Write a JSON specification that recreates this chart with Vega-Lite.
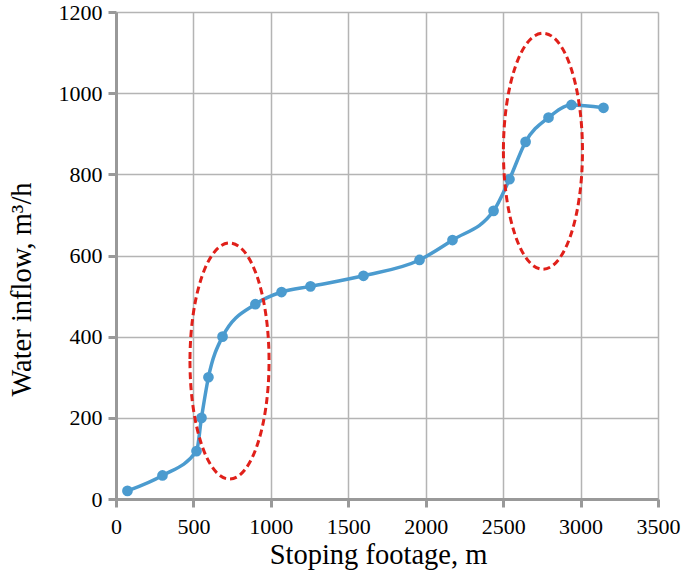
{
  "$schema": "https://vega.github.io/schema/vega-lite/v6.json",
  "autosize": {"type": "none"},
  "width": 542,
  "height": 487,
  "padding": {"left": 116, "top": 12, "right": 27, "bottom": 76},
  "background": "white",
  "config": {
    "view": {"stroke": null},
    "font": "Liberation Serif",
    "axis": {
      "labelFont": "Liberation Serif",
      "titleFont": "Liberation Serif",
      "labelColor": "black",
      "titleColor": "black",
      "titleFontWeight": "normal",
      "gridColor": "#b4b4b4",
      "gridWidth": 1.5,
      "domainColor": "#999999",
      "domainWidth": 3,
      "tickColor": "#999999",
      "tickWidth": 3,
      "tickSize": 8
    }
  },
  "datasets": {
    "curve": [
      {"footage": 74, "inflow": 20},
      {"footage": 300, "inflow": 58},
      {"footage": 520, "inflow": 118},
      {"footage": 552, "inflow": 200},
      {"footage": 597, "inflow": 300},
      {"footage": 688, "inflow": 400},
      {"footage": 900, "inflow": 480},
      {"footage": 1069, "inflow": 510},
      {"footage": 1256, "inflow": 524},
      {"footage": 1598, "inflow": 550},
      {"footage": 1960, "inflow": 589},
      {"footage": 2173, "inflow": 638},
      {"footage": 2438, "inflow": 710},
      {"footage": 2541, "inflow": 788},
      {"footage": 2645, "inflow": 880},
      {"footage": 2793, "inflow": 940},
      {"footage": 2941, "inflow": 971},
      {"footage": 3148, "inflow": 964}
    ],
    "zones": [
      {"footage": 733, "inflow": 340},
      {"footage": 2757, "inflow": 857}
    ]
  },
  "layer": [
    {
      "data": {"name": "curve"},
      "mark": {"type": "line", "interpolate": "monotone", "color": "#4b9bcf", "strokeWidth": 3.5},
      "encoding": {
        "x": {
          "field": "footage", "type": "quantitative",
          "scale": {"domain": [0, 3500], "nice": false},
          "axis": {"values": [0, 500, 1000, 1500, 2000, 2500, 3000, 3500], "format": "d", "title": "Stoping footage, m", "labelFontSize": 22, "titleFontSize": 28.5, "labelPadding": 9, "titlePadding": 3, "titleX": 262, "labelFlush": false}
        },
        "y": {
          "field": "inflow", "type": "quantitative",
          "scale": {"domain": [0, 1200], "nice": false},
          "axis": {"values": [0, 200, 400, 600, 800, 1000, 1200], "format": "d", "title": "Water inflow, m³/h", "labelFontSize": 22, "titleFontSize": 28.5, "labelPadding": 6, "titlePadding": 22, "titleY": 277, "labelFlush": false}
        }
      }
    },
    {
      "data": {"name": "curve"},
      "mark": {"type": "point", "filled": true, "color": "#4b9bcf", "size": 115, "opacity": 1},
      "encoding": {
        "x": {"field": "footage", "type": "quantitative"},
        "y": {"field": "inflow", "type": "quantitative"}
      }
    },
    {
      "data": {"name": "zones"},
      "mark": {
        "type": "point",
        "shape": "M -0.335 0 A 0.335 1 0 1 0 0.335 0 A 0.335 1 0 1 0 -0.335 0 Z",
        "size": 55700,
        "filled": false,
        "stroke": "#e0201a",
        "strokeWidth": 3,
        "strokeDash": [7, 4],
        "opacity": 1
      },
      "encoding": {
        "x": {"field": "footage", "type": "quantitative"},
        "y": {"field": "inflow", "type": "quantitative"}
      }
    }
  ]
}
